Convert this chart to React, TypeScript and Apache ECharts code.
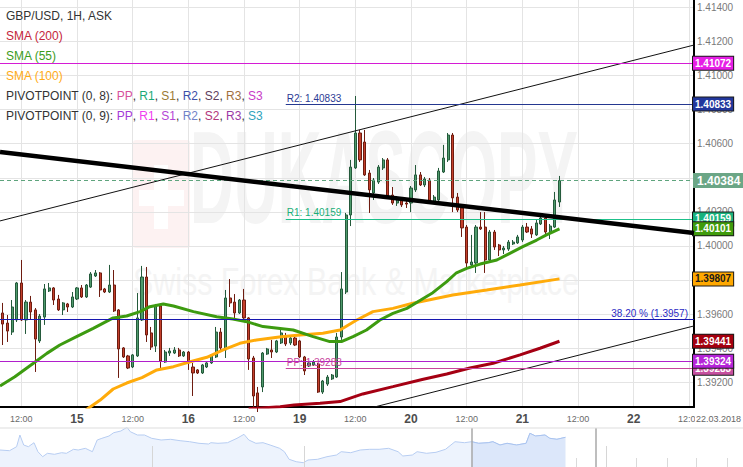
import React, { useEffect, useRef } from 'react';
import * as echarts from 'echarts';

const FONT = '"Liberation Sans", Arial, Helvetica, sans-serif';

// Hourly candles. Hour 0 = 15 Mar 00:00, weekend hours skipped (16 Mar 24:00 -> 19 Mar 00:00).
const FIRST_HOUR = -16;
// [open, close, low, high]
const candles: number[][] = [
  [1.39607, 1.39542, 1.39419, 1.39666],
  [1.39548, 1.39501, 1.39437, 1.39595],
  [1.39495, 1.39642, 1.39478, 1.39683],
  [1.39566, 1.39783, 1.39554, 1.39789],
  [1.39783, 1.39566, 1.39560, 1.39918],
  [1.39566, 1.39671, 1.39484, 1.39683],
  [1.39671, 1.39613, 1.39566, 1.39707],
  [1.39625, 1.39454, 1.39261, 1.39636],
  [1.39443, 1.39589, 1.39431, 1.39601],
  [1.39583, 1.39748, 1.39537, 1.39777],
  [1.39736, 1.39754, 1.39730, 1.39783],
  [1.39754, 1.39683, 1.39654, 1.39759],
  [1.39689, 1.39625, 1.39619, 1.39713],
  [1.39625, 1.39666, 1.39595, 1.39671],
  [1.39660, 1.39642, 1.39613, 1.39666],
  [1.39642, 1.39701, 1.39636, 1.39730],
  [1.39689, 1.39754, 1.39683, 1.39759],
  [1.39754, 1.39701, 1.39695, 1.39771],
  [1.39701, 1.39771, 1.39695, 1.39777],
  [1.39759, 1.39836, 1.39754, 1.39847],
  [1.39824, 1.39842, 1.39818, 1.39859],
  [1.39842, 1.39742, 1.39701, 1.39847],
  [1.39748, 1.39730, 1.39724, 1.39754],
  [1.39730, 1.39771, 1.39724, 1.39889],
  [1.39771, 1.39619, 1.39613, 1.39859],
  [1.39625, 1.39396, 1.39226, 1.39630],
  [1.39402, 1.39349, 1.39343, 1.39407],
  [1.39355, 1.39284, 1.39278, 1.39361],
  [1.39290, 1.39361, 1.39284, 1.39366],
  [1.39355, 1.39578, 1.39349, 1.39724],
  [1.39566, 1.39818, 1.39560, 1.39883],
  [1.39818, 1.39478, 1.39437, 1.39877],
  [1.39490, 1.39407, 1.39390, 1.39525],
  [1.39413, 1.39648, 1.39378, 1.39660],
  [1.39648, 1.39325, 1.39284, 1.39660],
  [1.39319, 1.39378, 1.39314, 1.39390],
  [1.39372, 1.39384, 1.39355, 1.39402],
  [1.39372, 1.39390, 1.39366, 1.39407],
  [1.39390, 1.39355, 1.39349, 1.39402],
  [1.39355, 1.39378, 1.39349, 1.39384],
  [1.39378, 1.39314, 1.39273, 1.39384],
  [1.39290, 1.39255, 1.39120, 1.39314],
  [1.39273, 1.39255, 1.39249, 1.39278],
  [1.39255, 1.39302, 1.39249, 1.39308],
  [1.39290, 1.39314, 1.39284, 1.39319],
  [1.39314, 1.39361, 1.39308, 1.39366],
  [1.39349, 1.39495, 1.39343, 1.39525],
  [1.39495, 1.39402, 1.39378, 1.39519],
  [1.39390, 1.39695, 1.39343, 1.39742],
  [1.39695, 1.39666, 1.39642, 1.39806],
  [1.39671, 1.39607, 1.39578, 1.39718],
  [1.39607, 1.39683, 1.39601, 1.39689],
  [1.39683, 1.39578, 1.39572, 1.39748],
  [1.39578, 1.39337, 1.39273, 1.39583],
  [1.39343, 1.39120, 1.39055, 1.39355],
  [1.39138, 1.39061, 1.39026, 1.39173],
  [1.39173, 1.39372, 1.39143, 1.39378],
  [1.39366, 1.39396, 1.39361, 1.39402],
  [1.39390, 1.39378, 1.39343, 1.39449],
  [1.39378, 1.39443, 1.39372, 1.39449],
  [1.39431, 1.39490, 1.39425, 1.39507],
  [1.39472, 1.39425, 1.39413, 1.39490],
  [1.39431, 1.39460, 1.39419, 1.39472],
  [1.39460, 1.39419, 1.39413, 1.39472],
  [1.39443, 1.39349, 1.39343, 1.39449],
  [1.39349, 1.39267, 1.39243, 1.39355],
  [1.39296, 1.39314, 1.39290, 1.39325],
  [1.39302, 1.39319, 1.39296, 1.39331],
  [1.39308, 1.39143, 1.39138, 1.39314],
  [1.39143, 1.39208, 1.39132, 1.39214],
  [1.39190, 1.39231, 1.39179, 1.39243],
  [1.39220, 1.39243, 1.39214, 1.39249],
  [1.39231, 1.39466, 1.39226, 1.39490],
  [1.39466, 1.39748, 1.39449, 1.39847],
  [1.39730, 1.40182, 1.39718, 1.40194],
  [1.40182, 1.40463, 1.40117, 1.40505],
  [1.40458, 1.40663, 1.40452, 1.40880],
  [1.40663, 1.40505, 1.40493, 1.40681],
  [1.40610, 1.40417, 1.40411, 1.40681],
  [1.40428, 1.40329, 1.40194, 1.40446],
  [1.40311, 1.40387, 1.40270, 1.40399],
  [1.40375, 1.40463, 1.40364, 1.40475],
  [1.40458, 1.40505, 1.40446, 1.40516],
  [1.40505, 1.40287, 1.40282, 1.40516],
  [1.40299, 1.40252, 1.40241, 1.40346],
  [1.40252, 1.40282, 1.40235, 1.40293],
  [1.40270, 1.40241, 1.40229, 1.40282],
  [1.40252, 1.40246, 1.40223, 1.40264],
  [1.40252, 1.40340, 1.40199, 1.40352],
  [1.40329, 1.40417, 1.40317, 1.40475],
  [1.40417, 1.40358, 1.40352, 1.40434],
  [1.40358, 1.40393, 1.40346, 1.40405],
  [1.40387, 1.40264, 1.40258, 1.40399],
  [1.40258, 1.40287, 1.40252, 1.40299],
  [1.40270, 1.40440, 1.40264, 1.40458],
  [1.40434, 1.40516, 1.40428, 1.40593],
  [1.40505, 1.40651, 1.40493, 1.40663],
  [1.40651, 1.40282, 1.40199, 1.40663],
  [1.40287, 1.40211, 1.40199, 1.40311],
  [1.40223, 1.40106, 1.40053, 1.40235],
  [1.40111, 1.39900, 1.39877, 1.40123],
  [1.39889, 1.39906, 1.39877, 1.40065],
  [1.39900, 1.40111, 1.39842, 1.40123],
  [1.40111, 1.40100, 1.40094, 1.40199],
  [1.40111, 1.39918, 1.39842, 1.40199],
  [1.39918, 1.40082, 1.39906, 1.40094],
  [1.40082, 1.39994, 1.39977, 1.40094],
  [1.40006, 1.39977, 1.39941, 1.40012],
  [1.39977, 1.39988, 1.39953, 1.40000],
  [1.39982, 1.40023, 1.39971, 1.40035],
  [1.40012, 1.40023, 1.40006, 1.40035],
  [1.40018, 1.40053, 1.40012, 1.40065],
  [1.40035, 1.40111, 1.40023, 1.40123],
  [1.40111, 1.40082, 1.40076, 1.40135],
  [1.40100, 1.40070, 1.40047, 1.40117],
  [1.40065, 1.40135, 1.40059, 1.40153],
  [1.40129, 1.40164, 1.40123, 1.40188],
  [1.40164, 1.40082, 1.40070, 1.40176],
  [1.40082, 1.40117, 1.40041, 1.40129],
  [1.40111, 1.40270, 1.40106, 1.40317],
  [1.40258, 1.40384, 1.40229, 1.40411],
];

// moving averages, [hour, value]
const sma55: number[][] = [
  [-16.6, 1.39179], [-13.4, 1.39233], [-9.4, 1.39312], [-6.5, 1.3937], [-3.7, 1.39419],
  [-0.1, 1.39468], [3.5, 1.39517], [7.8, 1.39578], [10.7, 1.39589], [13.6, 1.39615],
  [15.7, 1.39644], [18.6, 1.3966], [20.8, 1.39648], [25.1, 1.39615], [30.1, 1.39585],
  [33.6, 1.39572], [36.6, 1.39556], [40.1, 1.39527], [43.8, 1.39516], [46.6, 1.39507],
  [50.9, 1.39468], [54.5, 1.39439], [57.0, 1.39439], [59.5, 1.39468], [62.4, 1.39507],
  [65.3, 1.39566], [68.1, 1.39605], [71.1, 1.39634], [74.1, 1.39683], [76.7, 1.39726],
  [79.7, 1.39791], [81.8, 1.39843], [84.0, 1.39869], [86.9, 1.39894], [90.5, 1.39918],
  [93.3, 1.39957], [96.1, 1.39996], [99.1, 1.40035], [101.2, 1.40065], [104, 1.40101],
];
const sma100: number[][] = [
  [1.9, 1.39038], [5.0, 1.39096], [7.8, 1.39161], [10.7, 1.39196], [14.0, 1.39228],
  [17.2, 1.39273], [20.8, 1.39292], [24.4, 1.39321], [28.0, 1.39347], [31.5, 1.3939],
  [35.1, 1.39429], [38.7, 1.39449], [44.0, 1.39468], [48.1, 1.39478], [53.0, 1.39488],
  [56.7, 1.39507], [60.3, 1.39566], [63.8, 1.39615], [68.1, 1.39634], [72.4, 1.39664],
  [81.0, 1.39713], [88.3, 1.39742], [95.5, 1.39771], [104, 1.39807],
];
const sma200: number[][] = [
  [37, 1.39045], [43.8, 1.39057], [46.8, 1.39067], [52.4, 1.39077], [56.7, 1.39087],
  [61.6, 1.39132], [68.1, 1.39175], [74.4, 1.39217], [79.7, 1.39249], [84.7, 1.39284],
  [89.7, 1.39312], [95.5, 1.39361], [99.8, 1.394], [104, 1.39441],
];

// trend lines
const trendMain: number[][] = [[-16.6, 1.40551], [133, 1.40076]];
const channelUpper: number[][] = [[-16.6, 1.40147], [133, 1.41179]];
const channelLower: number[][] = [[60, 1.39027], [133, 1.39531]];

// levels
const levelTop = 1.41072;
const levelR2 = 1.40833;
const lastPrice = 1.40384;
const levelR1 = 1.40159;
const fib382 = 1.3957;
const levelS = 1.39324;
const levelPP = 1.39283;
const smaLast55 = 1.40101;
const smaLast100 = 1.39807;
const smaLast200 = 1.39441;
const pivotStart = 45;

// axes
const X_MIN = -16.6;
const X_MAX = 133;
const Y_MIN = 1.390554;
const Y_MAX = 1.414432;
const priceTicks = [1.392, 1.394, 1.396, 1.398, 1.4, 1.402, 1.404, 1.406, 1.408, 1.41, 1.412, 1.414];
const dayTicks = [0, 24, 48, 72, 96, 120];
const dayNames = ['15', '16', '19', '20', '21', '22'];
const halfDayTicks = [-12, 12, 36, 60, 84, 108, 132];
const dateLabel = '22.03.2018';

// navigator
const navProfile: number[][] = [
  [0, 17], [9.5, 16.3], [16.6, 20.3], [19.9, 32], [23.7, 22], [28.4, 20.3], [34, 24.3], [37.9, 15.3],
  [42.7, 10.3], [47.4, 13.7], [54.5, 12.7], [61.6, 14.3], [66.4, 13.7], [73.5, 17.7], [78.2, 17],
  [85.3, 18.7], [92.4, 15.3], [97.2, 27], [101.9, 28.7], [109, 31], [113.7, 34.3], [120.9, 36],
  [127, 39.7], [130.3, 35.3], [137.4, 32], [144.5, 32], [151.7, 28.7], [161.1, 27], [170.6, 27.7],
  [180.1, 26.3], [189.6, 25.3], [199, 23.7], [208.5, 23], [210.9, 24.3], [218, 23.7], [227.5, 24.3],
  [237, 28.7], [244, 32.7], [248.8, 27], [255.9, 23.7], [263, 24.3], [270.1, 22], [279.6, 18.7],
  [284.4, 15.3], [289.1, 7.7], [296.2, 5.3], [303.3, 4.3], [308, 7], [317.5, 7.7], [327, 10.3],
  [336.5, 12], [341.2, 15.3], [350.7, 14.3], [360.2, 17], [369.7, 17.7], [379.1, 17.7], [388.6, 18.7],
  [398.1, 15.3], [402.8, 11], [412.3, 12], [417.1, 15.3], [426.5, 13.7], [436, 14.7], [445.5, 17.7],
  [455, 25.3], [464.5, 24.3], [471.6, 25.3], [478.7, 23.7], [488.2, 24.3], [492.9, 25.3], [500, 22],
  [507.1, 23.7], [516.6, 22], [526.1, 23.7], [529.9, 33.7], [535.5, 31], [545, 32], [549.8, 28.7],
  [556.9, 27.7], [565.4, 29.7],
];
const navWindowStart = 471.6;
const navWindowEnd = 596;
const navTicks = [31.8, 61.6, 92.4, 122.7, 152.6, 182.5, 213, 243.6, 273.5, 303.8, 334, 364, 394.8, 425, 455, 485.8, 515.6, 546, 576, 606.6, 636.5, 666.8, 696.7, 727.5];
const navTallTicks = [152.6, 303.8, 606.6];

const tagLabel = (value: number, bg: string, o: any = {}) => ({
  show: true,
  position: 'end',
  distance: -1,
  formatter: value.toFixed(5),
  backgroundColor: bg,
  color: o.color || '#ffffff',
  fontSize: o.fontSize || 10,
  fontWeight: 'bold',
  fontFamily: FONT,
  opacity: 1,
  padding: o.padding || [2, 2, 1, 2],
  borderColor: o.noBorder ? 'transparent' : '#1a1a1a',
  borderWidth: o.noBorder ? 0 : 1,
});

const solid = (color: string) => ({ color, width: 1, type: 'solid', opacity: 1 });
const hidden = { color: 'rgba(0,0,0,0)', width: 1, type: 'solid', opacity: 1 };

const pivotText = (name: string, v: number, color: string) => ({
  show: true,
  position: 'insideStartTop',
  distance: [1, 1],
  formatter: `${name}: ${v.toFixed(5)}`,
  color,
  fontSize: 10,
  fontFamily: FONT,
});

export default function App() {
  const ref = useRef<HTMLDivElement>(null);
  useEffect(() => {
    document.body.style.margin = '0';
    if (!ref.current) return;
    const chart = echarts.init(ref.current, undefined, { renderer: 'svg' });
    const candleData = candles.map((c, i) => [FIRST_HOUR + i, c[0], c[1], c[2], c[3]]);
    const xTicks = [...halfDayTicks, ...dayTicks].sort((a, b) => a - b);

    const option: any = {
      animation: false,
      backgroundColor: '#ffffff',
      textStyle: { fontFamily: FONT },
      grid: [
        { left: 0, right: 49, top: 0, bottom: 60, containLabel: false, outerBoundsMode: 'none' },
        { left: 0, right: 0, top: 428, height: 39, containLabel: false, outerBoundsMode: 'none' },
      ],
      xAxis: [
        {
          type: 'value', gridIndex: 0, min: X_MIN, max: X_MAX,
          axisLine: { show: true, onZero: false, lineStyle: { color: '#000', width: 2 } },
          axisTick: { show: false, customValues: xTicks },
          axisLabel: {
            show: true, customValues: xTicks, margin: 6,
            formatter: (v: number) => {
              const i = dayTicks.indexOf(Math.round(v));
              return i >= 0 ? `{d|${dayNames[i]}}` : '{h|12:00}';
            },
            rich: {
              d: { fontSize: 12, fontWeight: 'bold', color: '#4d4d4d', lineHeight: 12, fontFamily: FONT },
              h: { fontSize: 9, color: '#6a6a6a', lineHeight: 12, fontFamily: FONT },
            },
          },
          splitLine: { show: true, lineStyle: { color: '#e4e4e4', width: 1 } },
        },
        {
          type: 'value', gridIndex: 1, min: 0, max: 743,
          axisLine: { show: false, onZero: false }, axisLabel: { show: false }, splitLine: { show: false },
          axisTick: { show: true, inside: true, length: 9, lineStyle: { color: '#dadada' }, customValues: navTicks },
        },
      ],
      yAxis: [
        {
          type: 'value', gridIndex: 0, position: 'right', min: Y_MIN, max: Y_MAX,
          axisLine: { show: true, onZero: false, lineStyle: { color: '#000', width: 2 } },
          axisTick: { show: false, customValues: priceTicks },
          axisLabel: {
            customValues: priceTicks, margin: 3, color: '#7a7a7a', fontSize: 10, fontFamily: FONT,
            formatter: (v: number) => v.toFixed(5),
          },
          splitLine: { show: true, lineStyle: { color: '#e4e4e4', width: 1 } },
        },
        { type: 'value', gridIndex: 1, min: 0, max: 39, show: false },
      ],
      series: [
        {
          type: 'candlestick', name: 'GBP/USD', data: candleData,
          encode: { x: 0, y: [1, 2, 3, 4] },
          barWidth: 2.6, clip: true, z: 2,
          itemStyle: {
            color: '#4f9a6c', color0: '#c4402c',
            borderColor: '#245a3b', borderColor0: '#6e1c10', borderWidth: 1,
          },
        },
        { type: 'line', name: 'SMA (200)', data: sma200, symbol: 'none', z: 3, clip: true, lineStyle: { color: '#a50013', width: 3 } },
        { type: 'line', name: 'SMA (100)', data: sma100, symbol: 'none', z: 3, clip: true, lineStyle: { color: '#ffab0a', width: 3 } },
        { type: 'line', name: 'SMA (55)', data: sma55, symbol: 'none', z: 3, clip: true, lineStyle: { color: '#3d9b10', width: 3 } },
        { type: 'line', name: 'upper', data: channelUpper, symbol: 'none', z: 4, clip: true, lineStyle: { color: '#111', width: 1 } },
        { type: 'line', name: 'lower', data: channelLower, symbol: 'none', z: 4, clip: true, lineStyle: { color: '#111', width: 1 } },
        {
          type: 'line', name: 'trend', data: trendMain, symbol: 'none', z: 5, clip: true,
          lineStyle: { color: '#000', width: 4.5 },
          markLine: {
            silent: true, symbol: ['none', 'none'], animation: false, precision: 5,
            lineStyle: { type: 'solid' },
            data: [
              { yAxis: levelTop, lineStyle: solid('#d41cd4'), label: tagLabel(levelTop, '#e61ee6') },
              [
                { coord: [pivotStart, levelR2], lineStyle: solid('#253890'), label: pivotText('R2', levelR2, '#2b3a94') },
                { coord: [X_MAX, levelR2] },
              ],
              { yAxis: levelR2, lineStyle: hidden, label: tagLabel(levelR2, '#22379c') },
              {
                yAxis: lastPrice, lineStyle: { color: '#5ea47d', width: 1, type: [4, 3], opacity: 1 },
                label: tagLabel(lastPrice, '#6ba686', { fontSize: 12, padding: [2, 4, 1, 4], noBorder: true }),
              },
              [
                { coord: [pivotStart, levelR1], lineStyle: solid('#1ec08a'), label: pivotText('R1', levelR1, '#1aae78') },
                { coord: [X_MAX, levelR1] },
              ],
              { yAxis: levelR1, lineStyle: hidden, label: tagLabel(levelR1, '#19b27d') },
              { yAxis: smaLast55, lineStyle: hidden, label: tagLabel(smaLast55, '#3f9b0c') },
              { yAxis: smaLast100, lineStyle: hidden, label: tagLabel(smaLast100, '#ffa800', { color: '#1a1a1a' }) },
              {
                yAxis: fib382, lineStyle: solid('#1717b0'),
                label: { show: true, position: 'insideEndTop', distance: [6, 1], formatter: '38.20 % (1.3957)', color: '#2b2bc4', fontSize: 10, fontFamily: FONT },
              },
              { yAxis: smaLast200, lineStyle: hidden, label: tagLabel(smaLast200, '#a4000f') },
              [
                { coord: [pivotStart, levelPP], lineStyle: solid('#c8449c'), label: pivotText('PP', levelPP, '#c8449c') },
                { coord: [X_MAX, levelPP] },
              ],
              { yAxis: levelPP, lineStyle: hidden, label: tagLabel(levelPP, '#c64f9f') },
              { yAxis: levelS, lineStyle: solid('#b11fcc'), label: tagLabel(levelS, '#b524d8') },
            ],
          },
        },
        {
          type: 'line', name: 'navigator', xAxisIndex: 1, yAxisIndex: 1, data: navProfile,
          symbol: 'none', z: 2, clip: true,
          lineStyle: { color: '#b7cdf2', width: 1 },
          areaStyle: { color: '#edf3fd', opacity: 1 },
          markLine: {
            silent: true, symbol: ['none', 'none'], animation: false, precision: 2, label: { show: false },
            data: [
              { xAxis: navWindowStart, lineStyle: { color: '#a9a9a9', width: 1.5, type: 'solid' } },
              { xAxis: navWindowEnd, lineStyle: { color: '#a9a9a9', width: 1.5, type: 'solid' } },
              ...navTallTicks.map((x) => [
                { coord: [x, 0], lineStyle: { color: '#d6d6d6', width: 1, type: 'solid' } },
                { coord: [x, 21] },
              ]),
            ],
          },
        },
        {
          type: 'line', name: 'navigatorWindow', xAxisIndex: 1, yAxisIndex: 1,
          data: navProfile.filter((p) => p[0] >= navWindowStart),
          symbol: 'none', z: 3, clip: true,
          lineStyle: { color: '#a9c3ef', width: 1 },
          areaStyle: { color: '#dce7fa', opacity: 1 },
        },
      ],
      graphic: [
        // watermark
        { type: 'rect', silent: true, z: -10, shape: { x: 133, y: 140, width: 57, height: 108, r: 3 }, style: { fill: '#fdf2f2' } },
        { type: 'rect', silent: true, z: -9, shape: { x: 154, y: 165, width: 14, height: 64 }, style: { fill: '#ffffff' } },
        { type: 'rect', silent: true, z: -9, shape: { x: 139, y: 190, width: 45, height: 16 }, style: { fill: '#ffffff' } },
        {
          type: 'text', silent: true, z: -10, x: 190, y: 111, scaleX: 0.46,
          style: { text: 'DUKASCOPY', font: `bold 132px ${FONT}`, fill: '#f4f4f4', verticalAlign: 'top' },
        },
        {
          type: 'text', silent: true, z: -10, x: 133, y: 263, scaleX: 0.8,
          style: { text: 'Swiss Forex Bank & Marketplace', font: `38px ${FONT}`, fill: '#f4f4f4', verticalAlign: 'top' },
        },
        // legend
        { type: 'text', silent: true, z: 50, x: 6, y: 16, style: { text: 'GBP/USD, 1H, ASK', font: `12px ${FONT}`, fill: '#333', verticalAlign: 'middle' } },
        { type: 'text', silent: true, z: 50, x: 6, y: 36, style: { text: 'SMA (200)', font: `12px ${FONT}`, fill: '#c4263b', verticalAlign: 'middle' } },
        { type: 'text', silent: true, z: 50, x: 6, y: 56, style: { text: 'SMA (55)', font: `12px ${FONT}`, fill: '#3c9c1c', verticalAlign: 'middle' } },
        { type: 'text', silent: true, z: 50, x: 6, y: 76, style: { text: 'SMA (100)', font: `12px ${FONT}`, fill: '#ffab18', verticalAlign: 'middle' } },
        {
          type: 'text', silent: true, z: 50, x: 6, y: 96,
          style: {
            text: '{b|PIVOTPOINT (0, 8): }{pp|PP}{b|, }{r1|R1}{b|, }{s1|S1}{b|, }{r2|R2}{b|, }{s2|S2}{b|, }{r3|R3}{b|, }{s3|S3}',
            font: `12px ${FONT}`, fill: '#333', verticalAlign: 'middle',
            rich: {
              b: { fill: '#333', font: `12px ${FONT}` },
              pp: { fill: '#d6509c', font: `12px ${FONT}` },
              r1: { fill: '#1aa978', font: `12px ${FONT}` },
              s1: { fill: '#9b7a34', font: `12px ${FONT}` },
              r2: { fill: '#3c4ea9', font: `12px ${FONT}` },
              s2: { fill: '#5e3d5c', font: `12px ${FONT}` },
              r3: { fill: '#9f6f3e', font: `12px ${FONT}` },
              s3: { fill: '#c83cc8', font: `12px ${FONT}` },
            },
          },
        },
        {
          type: 'text', silent: true, z: 50, x: 6, y: 116,
          style: {
            text: '{b|PIVOTPOINT (0, 9): }{pp|PP}{b|, }{r1|R1}{b|, }{s1|S1}{b|, }{r2|R2}{b|, }{s2|S2}{b|, }{r3|R3}{b|, }{s3|S3}',
            font: `12px ${FONT}`, fill: '#333', verticalAlign: 'middle',
            rich: {
              b: { fill: '#333', font: `12px ${FONT}` },
              pp: { fill: '#a53ad6', font: `12px ${FONT}` },
              r1: { fill: '#f03cf0', font: `12px ${FONT}` },
              s1: { fill: '#b445d6', font: `12px ${FONT}` },
              r2: { fill: '#7282c8', font: `12px ${FONT}` },
              s2: { fill: '#b2357a', font: `12px ${FONT}` },
              r3: { fill: '#9a3aa4', font: `12px ${FONT}` },
              s3: { fill: '#2ea3bc', font: `12px ${FONT}` },
            },
          },
        },
        // date stamp on the time axis
        {
          type: 'text', silent: true, z: 60, x: 695, y: 419,
          style: { text: dateLabel, font: `9px ${FONT}`, fill: '#666', verticalAlign: 'middle', backgroundColor: '#ffffff', padding: [2, 1, 2, 1] },
        },
        // navigator top border
        { type: 'line', silent: true, z: 60, shape: { x1: 0, y1: 428, x2: 743, y2: 428 }, style: { stroke: '#dddddd', lineWidth: 1 } },
      ],
    };
    chart.setOption(option);
    return () => chart.dispose();
  }, []);
  return <div ref={ref} style={{ width: 743, height: 467 }} />;
}
